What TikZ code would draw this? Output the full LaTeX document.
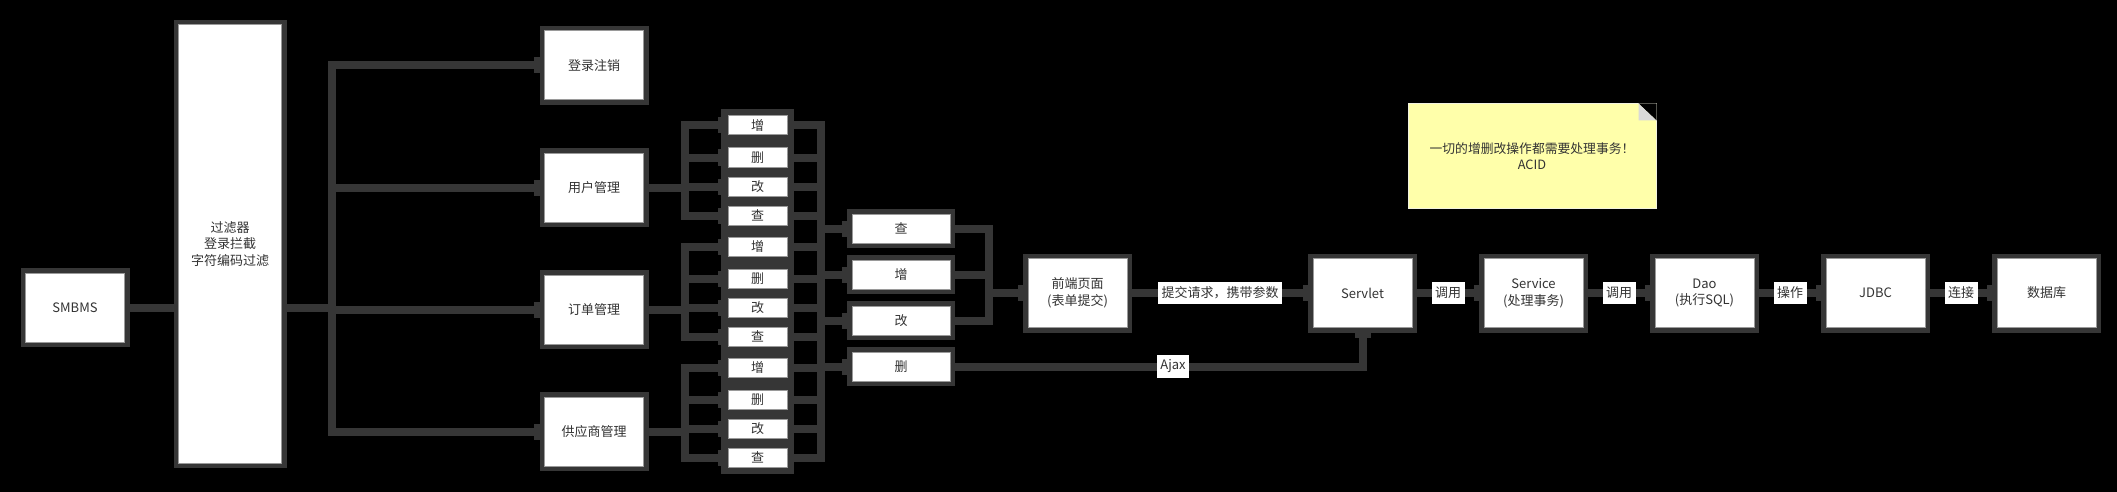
\documentclass[tikz,border=0pt]{standalone}
\usepackage{fontspec}
\setmainfont{Noto Sans CJK SC}
\usetikzlibrary{positioning, arrows.meta}
\definecolor{linegray}{HTML}{363636}
\definecolor{edgegray}{HTML}{9A9A9A}
\definecolor{txt}{HTML}{333333}
\definecolor{notefill}{HTML}{FFFFAA}
\definecolor{noteline}{HTML}{F2F2E0}
\definecolor{foldgray}{HTML}{D9D9D9}
\tikzset{
x=1pt, y=-1pt, % one unit is one pixel of the sketch, y runs down
>={Rectangle[length=10pt,width=16pt]}, % blocky arrow heads
node distance=71pt, % gap between the boxes of the chain
box/.style={rectangle, fill=white, draw=edgegray, line width=1pt,
  preaction={draw=linegray, line width=10pt},
  minimum width=99pt, minimum height=69pt, inner sep=0pt,
  align=center, text=txt, font=\fontsize{13}{16.5}\selectfont},
crud/.style={box, minimum width=59pt, minimum height=19pt,
  preaction={draw=linegray, line width=14pt}}, % the small add/delete/edit/query boxes
side/.style={box, minimum width=98pt, minimum height=29pt}, % boxes after the column
link/.style={linegray, line width=8pt, ->}, % edges only, so \path draws no stray tip
bus/.style={to path={-- ++(#1,0) |- (\tikztotarget)}}, % elbow edge with its own bend
lbl/.style={fill=white, text=txt, inner xsep=3.5pt, inner ysep=5pt,
  font=\fontsize{13}{16}\selectfont},
note/.style={rectangle, fill=notefill, draw=noteline, line width=1pt,
  minimum width=248pt, minimum height=104pt, align=center, text=txt,
  font=\fontsize{12.8}{16}\selectfont},
}

\begin{document}
\begin{tikzpicture}
    \fill[black, use as bounding box] (0,0) rectangle (2117,492);

    \node[box] (smbms) at (75,307.5) {SMBMS};
    \node[box, minimum width=103pt, minimum height=438pt] (filter) at (230,244) {过滤器\\登录拦截\\字符编码过滤};
    \coordinate (fout) at (filter.east |- smbms);

    \node[box] (login) at (594,65.5) {登录注销};
    \node[box, below=52pt of login] (user) {用户管理};
    \node[box, below=52pt of user] (order) {订单管理};
    \node[box, below=52pt of order] (prov) {供应商管理};

    % user group
    \node[crud] (uz) at (757.5,125.5) {增};
    \node[crud] (us) at (757.5,157.5) {删};
    \node[crud] (ug) at (757.5,186.5) {改};
    \node[crud] (uc) at (757.5,215.5) {查};
    % order group
    \node[crud] (oz) at (757.5,246.5) {增};
    \node[crud] (os) at (757.5,278.5) {删};
    \node[crud] (og) at (757.5,307.5) {改};
    \node[crud] (oc) at (757.5,336.5) {查};
    % provider group
    \node[crud] (pz) at (757.5,367.5) {增};
    \node[crud] (ps) at (757.5,399.5) {删};
    \node[crud] (pg) at (757.5,428.5) {改};
    \node[crud] (pc) at (757.5,457.5) {查};

    \node[side] (rc) at (901,228.5) {查};
    \node[side, below=16pt of rc] (rz) {增};
    \node[side, below=16pt of rz] (rg) {改};
    \node[side, below=16pt of rg] (rs) {删};

    \node[box] (front) at (1077.5,293) {前端页面\\(表单提交)};
    \node[box] (servlet) at (1362.5,293) {Servlet};
    \node[box, right=of servlet] (service) {Service\\(处理事务)};
    \node[box, right=of service] (dao) {Dao\\(执行SQL)};
    \node[box, right=of dao] (jdbc) {JDBC};
    \node[box, right=of jdbc] (db) {数据库};

    \node[note] (acid) at (1532,156) {一切的增删改操作都需要处理事务！\\ACID};
    \fill[black] ([xshift=-18pt]acid.north east) -- (acid.north east) -- ([yshift=-17pt]acid.north east) -- cycle;
    \fill[foldgray] ([xshift=-18pt]acid.north east) -- ([xshift=-18pt,yshift=-17pt]acid.north east) -- ([yshift=-17pt]acid.north east) -- cycle;

    \draw[link, -] (smbms) -- (smbms -| filter.west);
    \path[link] (fout) edge[bus=49.5] (login.west) edge[bus=49.5] (user.west)
      edge[bus=49.5] (order.west) edge[bus=49.5] (prov.west);
    \path[link] (user.east) edge[bus=40.5] (uz.west) edge[bus=40.5] (us.west)
      edge[bus=40.5] (ug.west) edge[bus=40.5] (uc.west);
    \path[link] (order.east) edge[bus=40.5] (oz.west) edge[bus=40.5] (os.west)
      edge[bus=40.5] (og.west) edge[bus=40.5] (oc.west);
    \path[link] (prov.east) edge[bus=40.5] (pz.west) edge[bus=40.5] (ps.west)
      edge[bus=40.5] (pg.west) edge[bus=40.5] (pc.west);
    \path[link] (uz.east) edge[bus=33] (rz.west) (oz.east) edge[bus=33] (rz.west) (pz.east) edge[bus=33] (rz.west)
      (us.east) edge[bus=33] (rs.west) (os.east) edge[bus=33] (rs.west) (ps.east) edge[bus=33] (rs.west)
      (ug.east) edge[bus=33] (rg.west) (og.east) edge[bus=33] (rg.west) (pg.east) edge[bus=33] (rg.west)
      (uc.east) edge[bus=33] (rc.west) (oc.east) edge[bus=33] (rc.west) (pc.east) edge[bus=33] (rc.west);
    \path[link] (rc.east) edge[bus=38] (front.west) (rz.east) edge[bus=38] (front.west)
      (rg.east) edge[bus=38] (front.west);
    \draw[link] (rs.east) -| node[lbl, pos=0.27] {Ajax} (servlet.south);
    \path[link] (front) edge node[lbl] {提交请求，携带参数} (servlet)
      (servlet) edge node[lbl] {调用} (service)
      (service) edge node[lbl] {调用} (dao)
      (dao) edge node[lbl] {操作} (jdbc)
      (jdbc) edge node[lbl] {连接} (db);
  \end{tikzpicture}
\end{document}
